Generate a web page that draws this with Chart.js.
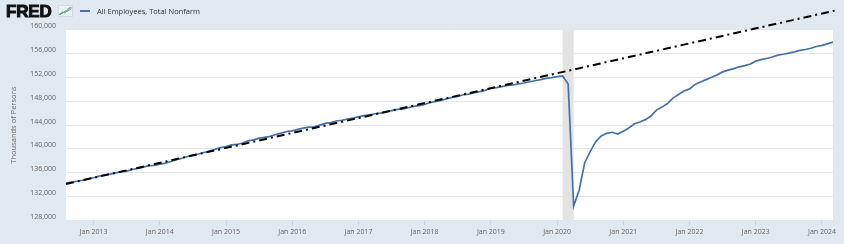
<!DOCTYPE html>
<html>
<head>
<meta charset="utf-8">
<script src="https://cdn.jsdelivr.net/npm/chart.js@4.4.1/dist/chart.umd.min.js"></script>
<style>
  html, body { margin: 0; padding: 0; background: #e1e9f0; }
  #wrap { position: relative; width: 844px; height: 244px; overflow: hidden; }
  #c { position: absolute; left: 0; top: 0; }
  #logo { position: absolute; left: 6px; top: 2.6px; font-family: "Liberation Sans", Arial, sans-serif; font-weight: bold; font-size: 17px; line-height: 17px; color: #111; letter-spacing: -0.2px; -webkit-text-stroke: 1px #111; }
  #icon { position: absolute; left: 58px; top: 5px; }
  #legend { position: absolute; left: 80px; top: 5px; height: 12px; display: flex; align-items: center; font-family: "Open Sans", sans-serif; font-size: 7.5px; color: #333; }
  #legend .sw { width: 10px; height: 2px; background: #4572a7; margin-right: 7px; }
</style>
</head>
<body>
<div id="wrap">
  <canvas id="c" width="844" height="244"></canvas>
  <div id="logo">FRED</div>
  <svg id="icon" width="15" height="12" viewBox="0 0 15 12">
    <rect x="0.5" y="0.5" width="14" height="11" fill="#eef2f5" stroke="#d3dae0" stroke-width="1"/>
    <polyline points="1.5,10 4.5,7 7,8 10,4 13.5,2" fill="none" stroke="#7bb661" stroke-width="1.2"/>
    <polyline points="1.5,9 4.5,8.5 7,6 10,6 13.5,3.5" fill="none" stroke="#5b8fc7" stroke-width="1"/>
  </svg>
  <div id="legend"><div class="sw"></div><span>All Employees, Total Nonfarm</span></div>
</div>
<script>
// ---- data ----
const startYear = 2012, startMonth = 8;   // first observation: Aug 2012
const employment = [
  134280, 134440, 134580, 134740, 134970,                                          // 2012 Aug-Dec
  135160, 135440, 135580, 135770, 135990, 136160, 136280, 136540, 136730, 136940, 137200, 137250, // 2013
  137440, 137610, 137880, 138200, 138420, 138720, 138950, 139140, 139390, 139620, 139940, 140210, // 2014
  140400, 140670, 140740, 140990, 141330, 141510, 141790, 141940, 142090, 142410, 142640, 142910, // 2015
  143030, 143270, 143490, 143640, 143680, 143970, 144270, 144420, 144670, 144790, 144980, 145150, // 2016
  145390, 145580, 145700, 145880, 145980, 146220, 146400, 146620, 146640, 146890, 147110, 147260, // 2017
  147430, 147760, 147940, 148120, 148390, 148620, 148790, 149070, 149180, 149410, 149580, 149810, // 2018
  150200, 150250, 150420, 150630, 150700, 150880, 151040, 151240, 151420, 151590, 151820, 151930, // 2019
  152100, 152210, 150870, 130430, 133110, 137680, 139530, 141200, 142160, 142610, 142780, 142490, // 2020
  142950, 143500, 144200, 144500, 144900, 145500, 146500, 147000, 147600, 148500, 149100, 149700, // 2021
  150050, 150800, 151200, 151600, 152000, 152400, 152900, 153200, 153450, 153750, 153950, 154220, // 2022
  154700, 154950, 155150, 155400, 155700, 155850, 156050, 156250, 156500, 156650, 156850, 157150, // 2023
  157350, 157600, 157900                                                           // 2024 Jan-Mar
];
const trendMonths = ['2012-08', '2024-04'];
const trendValues = [134115, 163305];
const recessions = [['2020-02', '2020-04']];
const xTickLabels = ['Jan 2013','Jan 2014','Jan 2015','Jan 2016','Jan 2017','Jan 2018',
                     'Jan 2019','Jan 2020','Jan 2021','Jan 2022','Jan 2023','Jan 2024'];
const yTicks = [128000, 132000, 136000, 140000, 144000, 148000, 152000, 156000, 160000];
const axisRange = ['2012-08', '2024-03'];

// ---- helpers ----
function monthIndex(s) {
  const [y, m] = s.split('-').map(Number);
  return (y - startYear) * 12 + (m - startMonth);
}
function labelToIndex(lbl) {
  const names = {Jan:1,Feb:2,Mar:3,Apr:4,May:5,Jun:6,Jul:7,Aug:8,Sep:9,Oct:10,Nov:11,Dec:12};
  const [mn, yr] = lbl.split(' ');
  return (Number(yr) - startYear) * 12 + (names[mn] - startMonth);
}
const seriesPoints = employment.map((v, i) => ({x: i, y: v}));
const trendPoints = trendMonths.map((m, i) => ({x: monthIndex(m), y: trendValues[i]}));
const xTickPos = xTickLabels.map(labelToIndex);

const plotBg = {
  id: 'plotBg',
  beforeDraw(chart) {
    const {ctx, chartArea: a} = chart;
    ctx.save();
    ctx.fillStyle = '#ffffff';
    ctx.fillRect(a.left, a.top, a.right - a.left, a.bottom - a.top);
    ctx.restore();
  }
};
const recessionShade = {
  id: 'recessionShade',
  beforeDatasetsDraw(chart) {
    const {ctx, chartArea: a, scales: {x}} = chart;
    ctx.save();
    ctx.fillStyle = '#e3e3e3';
    recessions.forEach(([s, e]) => {
      const x0 = x.getPixelForValue(monthIndex(s));
      const x1 = x.getPixelForValue(monthIndex(e));
      ctx.fillRect(x0, a.top, x1 - x0, a.bottom - a.top);
    });
    ctx.restore();
  }
};

new Chart(document.getElementById('c'), {
  type: 'line',
  data: {
    datasets: [
      {
        label: 'All Employees, Total Nonfarm',
        data: seriesPoints,
        borderColor: '#4572a7',
        borderWidth: 1.7,
        pointRadius: 0,
        tension: 0,
        order: 2
      },
      {
        label: 'Trend',
        data: trendPoints,
        borderColor: '#000000',
        borderWidth: 2,
        borderDash: [8, 4, 2, 4],
        pointRadius: 0,
        clip: false,
        order: 1
      }
    ]
  },
  options: {
    responsive: false,
    animation: false,
    layout: { padding: { top: 29.5, right: 11, bottom: 0, left: 0 } },
    plugins: { legend: { display: false }, tooltip: { enabled: false } },
    scales: {
      x: {
        type: 'linear',
        min: monthIndex(axisRange[0]),
        max: monthIndex(axisRange[1]),
        afterBuildTicks(scale) { scale.ticks = xTickPos.map(v => ({value: v})); },
        afterFit(scale) { scale.height = 23.5; },
        border: { display: false },
        grid: { drawOnChartArea: false, drawTicks: true, tickLength: 5, color: '#c8d4e0', lineWidth: 1 },
        ticks: {
          autoSkip: false, maxRotation: 0, padding: 2,
          color: '#666666',
          font: { family: 'Open Sans', size: 7 },
          callback: (v) => { const i = xTickPos.indexOf(v); return i >= 0 ? xTickLabels[i] : ''; }
        }
      },
      y: {
        min: yTicks[0],
        max: yTicks[yTicks.length - 1],
        afterBuildTicks(scale) { scale.ticks = yTicks.map(v => ({value: v})); },
        afterFit(scale) { scale.width = 66; },
        border: { display: false },
        grid: { color: '#e6e6e6', lineWidth: 1, drawTicks: false },
        ticks: {
          padding: 10,
          labelOffset: -3.5,
          color: '#666666',
          font: { family: 'Open Sans', size: 7 },
          callback: (v) => Number(v).toLocaleString('en-US')
        },
        title: {
          display: true,
          text: 'Thousands of Persons',
          color: '#666666',
          font: { family: 'Open Sans', size: 7.5 },
          padding: { top: 9.5, bottom: 0 }
        }
      }
    }
  },
  plugins: [plotBg, recessionShade]
});
</script>
</body>
</html>
